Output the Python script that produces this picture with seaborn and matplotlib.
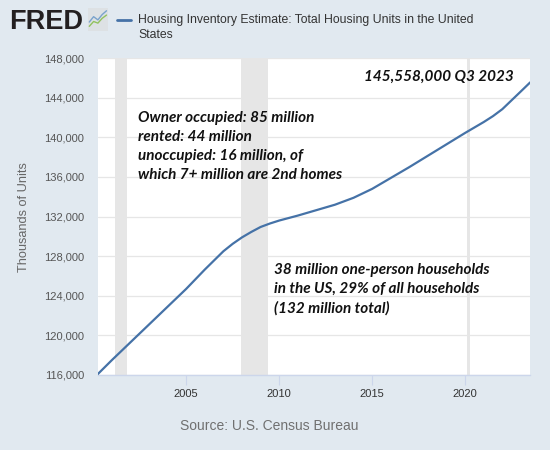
import numpy as np
import pandas as pd
import seaborn as sns
import matplotlib.pyplot as plt
from matplotlib.ticker import FuncFormatter

# 数据：年份（小数年）与住房总量（千套）
years = [2000.25, 2001, 2002, 2003, 2004, 2005, 2006, 2007, 2007.5, 2008,
         2008.5, 2009, 2009.5, 2010, 2010.5, 2011, 2012, 2013, 2014, 2015,
         2016, 2017, 2018, 2019, 2020, 2021, 2021.5, 2022, 2022.5, 2023,
         2023.5]
units = [116100, 117500, 119300, 121100, 122900, 124700, 126650, 128500,
         129250, 129900, 130450, 130950, 131300, 131600, 131850, 132100,
         132650, 133200, 133900, 134800, 135900, 137000, 138150, 139300,
         140450, 141550, 142150, 142850, 143750, 144650, 145558]

# 衰退期（NBER）
rec_start = [2001.17, 2007.92, 2020.08]
rec_end = [2001.83, 2009.42, 2020.25]

y_ticks = list(range(116000, 148001, 4000))
x_ticks = [2005, 2010, 2015, 2020]

title = "Housing Inventory Estimate: Total Housing Units in the United\nStates"
note1 = ("Owner occupied: 85 million\nrented: 44 million\n"
         "unoccupied: 16 million, of\nwhich 7+ million are 2nd homes")
note2 = ("38 million one-person households\nin the US, 29% of all households\n"
         "(132 million total)")
note3 = "145,558,000 Q3 2023"

df = pd.DataFrame({"year": years, "units": units})

sns.set_theme(style="white")
plt.rcParams['font.family'] = ['Liberation Sans', 'DejaVu Sans']

bg = "#e1e9f0"
fig = plt.figure(figsize=(5.5, 4.5), dpi=100, facecolor=bg)
ax = fig.add_axes([0.178, 0.1667, 0.786, 0.704])
ax.set_facecolor("white")

# 衰退阴影
for s, e in zip(rec_start, rec_end):
    ax.axvspan(s, e, color="#e6e6e6", lw=0, zorder=0)

sns.lineplot(data=df, x="year", y="units", ax=ax, color="#4572a7",
             linewidth=1.6, zorder=3)

ax.set_xlim(years[0], years[-1])
ax.set_ylim(y_ticks[0], y_ticks[-1])
ax.set_yticks(y_ticks)
ax.set_xticks(x_ticks)
ax.yaxis.set_major_formatter(FuncFormatter(lambda v, p: f"{int(v):,}"))
ax.grid(axis="y", color="#e6e6e6", linewidth=0.9, zorder=1)
ax.set_axisbelow(True)

for side in ["top", "right", "left"]:
    ax.spines[side].set_visible(False)
ax.spines["bottom"].set_color("#ccd6eb")
ax.spines["bottom"].set_linewidth(1.0)

ax.tick_params(axis="x", length=7, width=0.8, color="#ccd6eb", bottom=True,
               labelsize=8, labelcolor="#333333", pad=3)
ax.tick_params(axis="y", length=0, labelsize=8, labelcolor="#555555", pad=10)
ax.set_xlabel("")
ax.set_ylabel("Thousands of Units", fontsize=9.2, color="#666666", labelpad=10)

# 标注文字
anno = dict(family=["Lato", "DejaVu Sans"], weight="bold", style="italic",
            fontsize=11, color="#111111", zorder=5, linespacing=1.45)
ax.text(2002.4, 142700, note1, va="top", ha="left", **anno)
ax.text(2009.7, 127300, note2, va="top", ha="left", **anno)
ax.text(2022.6, 146850, note3, va="top", ha="right", **anno)

# 标题与图例线
fig.text(0.251, 0.968, title, ha="left", va="top", fontsize=8.8,
         color="#333333", linespacing=1.25)
fig.lines.append(plt.Line2D([0.213, 0.238], [0.955, 0.955],
                            transform=fig.transFigure, color="#4572a7", lw=2))

# FRED 标志
fig.text(0.016, 0.952, "FRED", ha="left", va="center", fontsize=19.5,
         weight="heavy", color="#231f20")
logo_ax = fig.add_axes([0.16, 0.932, 0.036, 0.05])
logo_ax.set_facecolor("#dde1e4")
logo_x = [0, 1, 2, 3, 4]
logo_blue = [1.6, 2.6, 2.0, 3.0, 3.7]
logo_green = [0.8, 1.7, 1.4, 2.3, 2.9]
logo_ax.plot(logo_x, logo_blue, color="#7aa3cc", lw=1)
logo_ax.plot(logo_x, logo_green, color="#92c25f", lw=1)
logo_ax.set_xlim(-0.3, 4.3)
logo_ax.set_ylim(0, 4.2)
logo_ax.set_xticks([])
logo_ax.set_yticks([])
for sp in logo_ax.spines.values():
    sp.set_visible(False)

fig.text(0.49, 0.053, "Source: U.S. Census Bureau", ha="center", va="center",
         fontsize=10, color="#707070")

fig.savefig("out.png", dpi=100, facecolor=bg)
